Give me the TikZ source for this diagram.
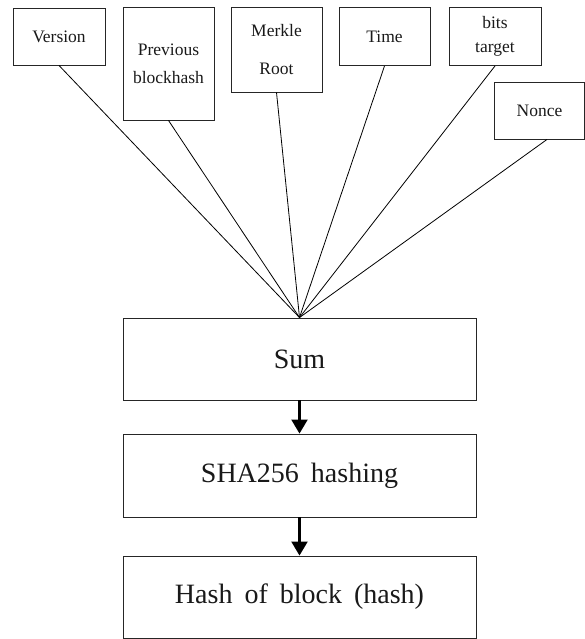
\documentclass[tikz,border=0pt]{standalone}
\usepackage{fontspec}
\setmainfont{Liberation Serif}
\usetikzlibrary{arrows.meta}
\newcommand{\wideSpaces}{\spaceskip=12pt plus 2pt minus 1pt\relax}
\begin{document}
\begin{tikzpicture}[x=1pt,y=-1pt,
  box/.style={draw=black!85, line width=0.9pt, inner sep=0pt, align=center, text=black!90},
  small/.style={font=\fontsize{17.5}{20}\selectfont},
  big/.style={font=\fontsize{28}{32}\selectfont},
  link/.style={draw=black, line width=0.8pt},
  flow/.style={draw=black, line width=2.2pt, -{Triangle[width=16pt,length=14pt]}}]
\useasboundingbox (0,0) rectangle (585,639);
% top input boxes
\node[box,small,minimum width=92pt,minimum height=57pt] (ver) at (59,36.5) {Version};
\node[box,small,minimum width=91pt,minimum height=113pt] (prev) at (168.5,63.5) {Previous\\[8pt]blockhash};
\node[box,small,minimum width=91pt,minimum height=85pt] (merk) at (276.5,49.5) {Merkle\\[18pt]Root};
\node[box,small,minimum width=91pt,minimum height=58pt] (time) at (384.5,36.5) {Time};
\node[box,small,minimum width=92pt,minimum height=58pt] (bits) at (495,36.5) {bits\\[4pt]target};
\node[box,small,minimum width=90pt,minimum height=57pt] (nonce) at (539.5,110.5) {Nonce};
% process boxes
\node[box,big,minimum width=353pt,minimum height=82pt] (sum) at (299.5,359) {Sum};
\node[box,big,minimum width=353pt,minimum height=83pt] (sha) at (299.5,475.5) {\wideSpaces SHA256 hashing};
\node[box,big,minimum width=353pt,minimum height=82pt] (hash) at (299.5,597) {\wideSpaces Hash of block (hash)};
% converging links
\draw[link] (ver.south) -- (sum.north);
\draw[link] (prev.south) -- (sum.north);
\draw[link] (merk.south) -- (sum.north);
\draw[link] (time.south) -- (sum.north);
\draw[link] (bits.south) -- (sum.north);
\draw[link] ([xshift=7.5pt]nonce.south) -- (sum.north);
% flow arrows
\draw[flow] (sum.south) -- (sha.north);
\draw[flow] (sha.south) -- (hash.north);
\end{tikzpicture}
\end{document}
